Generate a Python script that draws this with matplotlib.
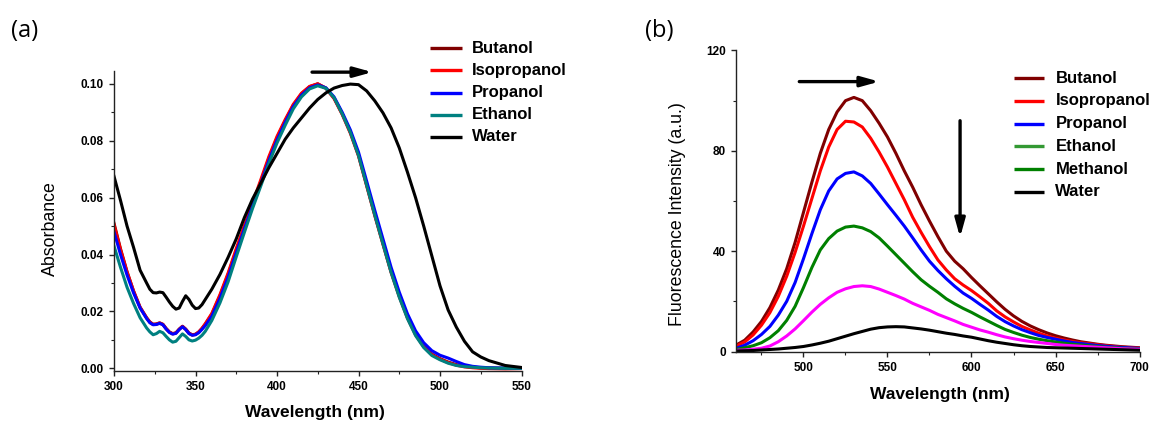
import matplotlib
matplotlib.use("Agg")
import matplotlib.pyplot as plt
from matplotlib.lines import Line2D
from matplotlib.ticker import MultipleLocator, FormatStrFormatter

plt.rcParams['font.family'] = ['Liberation Sans', 'DejaVu Sans']

# ---------------- (a) absorbance ----------------
wl_abs = [300, 304, 308, 312, 316,
          320, 322, 324, 326, 328, 330, 332, 334, 336, 338, 340, 342, 344, 346, 348, 350, 352, 354, 356,
          360, 365, 370, 375, 380, 385, 390, 395, 400, 405, 410, 415, 420, 425, 430, 435, 440, 445,
          450, 455, 460, 465, 470, 475, 480, 485, 490, 495, 500, 505, 510, 515, 520, 525, 530,
          540, 550]

abs_butanol = [.0510, .0420, .0340, .0272, .0215,
               .0178, .0163, .0155, .0156, .0160, .0155, .0140, .0128, .0122, .0125, .0138, .0148, .0138, .0124, .0118, .0120, .0128, .0140, .0155,
               .0190, .0255, .0330, .0415, .0495, .0575, .0655, .0738, .0810, .0870, .0925, .0965, .0990, .1000, .0985, .0950, .0895, .0830,
               .0750, .0645, .0540, .0440, .0340, .0255, .0180, .0120, .0078, .0050, .0034, .0022, .0013, .0007, .0004, .0002, .0001,
               .0000, .0000]

abs_isopropanol = [.0505, .0417, .0338, .0271, .0214,
                   .0177, .0162, .0154, .0155, .0159, .0154, .0139, .0127, .0121, .0124, .0137, .0147, .0137, .0123, .0117, .0119, .0128, .0141, .0157,
                   .0193, .0259, .0335, .0421, .0502, .0582, .0662, .0744, .0815, .0874, .0928, .0967, .0991, .1000, .0984, .0948, .0892, .0826,
                   .0746, .0641, .0536, .0436, .0337, .0252, .0177, .0118, .0076, .0048, .0032, .0020, .0011, .0005, .0002, .0000, -.0001,
                   -.0002, -.0001]

abs_propanol = [.0480, .0400, .0328, .0265, .0212,
                .0175, .0160, .0153, .0154, .0158, .0153, .0138, .0126, .0120, .0123, .0136, .0146, .0136, .0122, .0116, .0118, .0125, .0137, .0150,
                .0183, .0246, .0320, .0406, .0490, .0570, .0648, .0730, .0802, .0864, .0920, .0960, .0986, .0996, .0986, .0954, .0900, .0838,
                .0760, .0658, .0555, .0455, .0355, .0268, .0192, .0132, .0090, .0062, .0046, .0036, .0024, .0013, .0007, .0004, .0002,
                .0001, .0000]

abs_ethanol = [.0430, .0355, .0285, .0228, .0178,
               .0142, .0128, .0118, .0122, .0130, .0125, .0112, .0100, .0092, .0095, .0108, .0121, .0112, .0100, .0096, .0099, .0106, .0116, .0130,
               .0168, .0230, .0304, .0392, .0478, .0562, .0640, .0720, .0792, .0854, .0912, .0954, .0982, .0993, .0984, .0951, .0894, .0829,
               .0748, .0643, .0538, .0437, .0337, .0250, .0175, .0115, .0073, .0045, .0030, .0018, .0010, .0006, .0004, .0002, .0001,
               .0000, .0000]

abs_water = [.0675, .0590, .0500, .0425, .0345,
             .0300, .0278, .0266, .0265, .0268, .0266, .0250, .0233, .0218, .0208, .0212, .0235, .0255, .0242, .0222, .0210, .0212, .0224, .0242,
             .0278, .0330, .0390, .0455, .0530, .0595, .0650, .0705, .0755, .0805, .0845, .0880, .0915, .0945, .0968, .0985, .0994, .0999,
             .0997, .0975, .0940, .0898, .0845, .0775, .0690, .0600, .0500, .0395, .0290, .0205, .0145, .0095, .0058, .0040, .0027,
             .0010, .0003]

abs_names = ['Butanol', 'Isopropanol', 'Propanol', 'Ethanol', 'Water']
abs_series = [abs_butanol, abs_isopropanol, abs_propanol, abs_ethanol, abs_water]
abs_colors = ['#800000', '#ff0000', '#0000ff', '#008080', '#000000']

# ---------------- (b) fluorescence ----------------
wl_fl = list(range(460, 701, 5))

fl_butanol = [2.6, 4.5, 7.8, 12.0, 17.5, 24.5, 33.0, 43.5, 55.5, 67.5, 79.0, 88.5, 95.5, 100.0, 101.3, 100.0, 96.0,
              91.0, 85.5, 79.0, 72.0, 65.5, 58.5, 52.0, 45.8, 40.0, 36.0, 33.0, 29.5, 26.2, 23.0, 19.8, 16.8, 14.2,
              12.0, 10.2, 8.7, 7.4, 6.3, 5.4, 4.6, 3.9, 3.4, 2.9, 2.5, 2.2, 1.9, 1.7, 1.5]
fl_isopropanol = [2.2, 3.8, 6.6, 10.5, 15.5, 22.0, 30.0, 39.5, 50.0, 61.0, 72.0, 81.5, 88.5, 91.8, 91.5, 89.5, 85.0,
                  79.5, 73.5, 67.0, 60.5, 53.5, 47.5, 41.8, 36.5, 32.5, 29.0, 26.5, 24.3, 21.8, 19.2, 16.2, 13.8, 11.8,
                  10.0, 8.6, 7.3, 6.2, 5.3, 4.6, 4.0, 3.5, 3.1, 2.7, 2.3, 2.0, 1.7, 1.5, 1.3]
fl_propanol = [1.3, 2.5, 4.3, 6.8, 10.0, 14.5, 20.0, 27.5, 37.0, 47.0, 56.5, 64.0, 68.8, 71.0, 71.6, 70.0, 67.0,
               62.8, 58.5, 54.3, 50.0, 45.3, 40.5, 36.0, 32.3, 29.0, 26.0, 23.3, 21.2, 18.8, 16.5, 14.0, 11.9, 10.2,
               8.7, 7.5, 6.4, 5.6, 4.9, 4.2, 3.6, 3.2, 2.8, 2.4, 2.1, 1.8, 1.6, 1.4, 1.2]
fl_ethanol = [0.8, 1.5, 2.3, 3.5, 5.5, 8.3, 12.4, 18.0, 25.5, 33.5, 40.5, 45.0, 48.0, 49.6, 50.0, 49.3, 47.8,
              45.3, 42.0, 38.6, 35.2, 31.8, 28.6, 26.0, 23.6, 21.0, 19.0, 17.2, 15.6, 13.8, 12.1, 10.4, 8.8, 7.6,
              6.5, 5.6, 4.9, 4.3, 3.8, 3.3, 2.9, 2.6, 2.3, 2.0, 1.7, 1.5, 1.3, 1.1, 1.0]
fl_methanol = [0.5, 0.6, 0.9, 1.3, 2.2, 3.9, 6.2, 9.0, 12.3, 15.7, 18.8, 21.4, 23.6, 25.0, 25.9, 26.2, 25.9,
               24.9, 23.6, 22.3, 20.9, 19.2, 17.8, 16.4, 14.8, 13.5, 12.2, 10.8, 9.7, 8.6, 7.7, 6.7, 5.8, 5.1,
               4.5, 4.0, 3.6, 3.2, 2.8, 2.5, 2.3, 2.1, 1.9, 1.7, 1.5, 1.3, 1.1, 1.0, 0.9]
fl_water = [0.2, 0.3, 0.4, 0.6, 0.8, 1.0, 1.3, 1.6, 2.0, 2.6, 3.3, 4.1, 5.1, 6.1, 7.1, 8.0, 8.9,
            9.5, 9.8, 9.9, 9.8, 9.4, 9.0, 8.5, 7.9, 7.3, 6.8, 6.2, 5.7, 5.0, 4.3, 3.7, 3.2, 2.7,
            2.3, 2.0, 1.8, 1.6, 1.5, 1.4, 1.3, 1.2, 1.1, 1.0, 0.9, 0.8, 0.7, 0.6, 0.5]

fl_names = ['Butanol', 'Isopropanol', 'Propanol', 'Ethanol', 'Methanol', 'Water']
fl_series = [fl_butanol, fl_isopropanol, fl_propanol, fl_ethanol, fl_methanol, fl_water]
fl_colors = ['#800000', '#ff0000', '#0000ff', '#008000', '#ff00ff', '#000000']
fl_key_colors = ['#800000', '#ff0000', '#0000ff', '#339933', '#008000', '#000000']

W, H = 1156, 423
fig = plt.figure(figsize=(W / 100, H / 100), dpi=100)


def px_box(x0, x1, y_bot, y_top):
    return [x0 / W, 1 - y_bot / H, (x1 - x0) / W, (y_bot - y_top) / H]


def style_axes(ax):
    for s in ['top', 'right']:
        ax.spines[s].set_visible(False)
    for s in ['left', 'bottom']:
        ax.spines[s].set_linewidth(1.0)
        ax.spines[s].set_color('#222222')
    ax.tick_params(which='major', direction='out', length=3.5, width=1, pad=4,
                   labelsize=8.5, colors='#222222')
    ax.tick_params(which='minor', direction='out', length=2, width=0.8, colors='#222222')
    for lab in ax.get_xticklabels() + ax.get_yticklabels():
        lab.set_fontweight('bold')
        lab.set_color('black')


def add_key(names, colors, x0, x1, xt, y0, dy):
    for i, (n, c) in enumerate(zip(names, colors)):
        y = 1 - (y0 + i * dy) / H
        fig.add_artist(Line2D([x0 / W, x1 / W], [y, y], transform=fig.transFigure,
                              color=c, lw=2.4, solid_capstyle='butt'))
        fig.text(xt / W, y, n, fontsize=12, fontweight='bold', ha='left', va='center')


arrow_style = dict(arrowstyle='-|>,head_length=0.9,head_width=0.25', lw=2.4,
                   color='black', mutation_scale=12, shrinkA=0, shrinkB=0)

# ---- panel (a)
ax1 = fig.add_axes(px_box(114, 521.5, 370.6, 71))
for name, ys, c in zip(abs_names, abs_series, abs_colors):
    ax1.plot(wl_abs, ys, color=c, lw=2.2, label=name)
ax1.set_xlim(300, 550)
ax1.set_ylim(-0.0008, 0.1045)
ax1.xaxis.set_major_locator(MultipleLocator(50))
ax1.xaxis.set_minor_locator(MultipleLocator(25))
ax1.yaxis.set_major_locator(MultipleLocator(0.02))
ax1.yaxis.set_minor_locator(MultipleLocator(0.01))
ax1.yaxis.set_major_formatter(FormatStrFormatter('%.2f'))
style_axes(ax1)
ax1.set_xlabel('Wavelength (nm)', fontsize=12.5, fontweight='bold')
ax1.xaxis.set_label_coords(0.492, -0.14)
ax1.xaxis.label.set_va('center')
ax1.set_ylabel('Absorbance', fontsize=12.8, va='center')
ax1.yaxis.set_label_coords(-0.157, 0.473)
ax1.annotate('', xy=(458.5, 0.1041), xytext=(421.5, 0.1041), annotation_clip=False,
             arrowprops=arrow_style)
add_key(abs_names, abs_colors, 430, 462, 471.7, 48.3, 22.1)
fig.text(11 / W, 1 - 31 / H, '(a)', fontsize=17, family='Open Sans', ha='left', va='center')

# ---- panel (b)
ax2 = fig.add_axes(px_box(736.3, 1139.5, 351.5, 50.5))
for name, ys, c in zip(fl_names, fl_series, fl_colors):
    ax2.plot(wl_fl, ys, color=c, lw=2.2, label=name)
ax2.set_xlim(460, 700)
ax2.set_ylim(0, 120)
ax2.xaxis.set_major_locator(MultipleLocator(50))
ax2.xaxis.set_minor_locator(MultipleLocator(25))
ax2.yaxis.set_major_locator(MultipleLocator(40))
ax2.yaxis.set_minor_locator(MultipleLocator(20))
style_axes(ax2)
ax2.set_xlabel('Wavelength (nm)', fontsize=12.5, fontweight='bold')
ax2.xaxis.set_label_coords(0.505, -0.1445)
ax2.xaxis.label.set_va('center')
ax2.set_ylabel('Fluorescence Intensity (a.u.)', fontsize=12.8, va='center')
ax2.yaxis.set_label_coords(-0.147, 0.457)
ax2.annotate('', xy=(545.1, 107.6), xytext=(497.5, 107.6), annotation_clip=False,
             arrowprops=arrow_style)
ax2.annotate('', xy=(593.2, 45.5), xytext=(593.2, 92.0), annotation_clip=False,
             arrowprops=arrow_style)
add_key(fl_names, fl_key_colors, 1013.6, 1044.3, 1055.4, 78.3, 22.7)
fig.text(645 / W, 1 - 31 / H, '(b)', fontsize=17, family='Open Sans', ha='left', va='center')

fig.savefig('out.png', dpi=100)
